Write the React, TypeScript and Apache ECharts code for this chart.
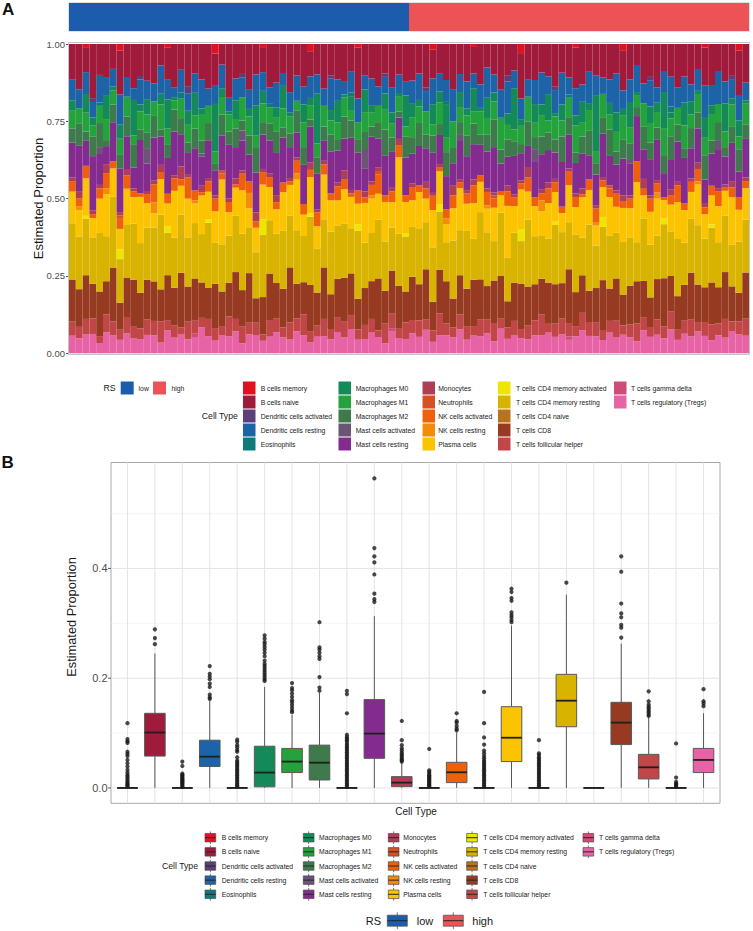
import React, { useEffect, useRef } from "react";
import * as echarts from "echarts";

const FONT = '"Liberation Sans", Arial, Helvetica, sans-serif';

const CELL_TYPES = [
  "B cells memory", "B cells naive", "Dendritic cells activated", "Dendritic cells resting", "Eosinophils",
  "Macrophages M0", "Macrophages M1", "Macrophages M2", "Mast cells activated", "Mast cells resting",
  "Monocytes", "Neutrophils", "NK cells activated", "NK cells resting", "Plasma cells",
  "T cells CD4 memory activated", "T cells CD4 memory resting", "T cells CD4 naive", "T cells CD8", "T cells follicular helper",
  "T cells gamma delta", "T cells regulatory (Tregs)",
];

const COLORS = [
  "#E0121F", "#A01A3C", "#5A3F78", "#1C63A7", "#107A79",
  "#138A58", "#24A23B", "#3E7A4B", "#6B5577", "#842B8F",
  "#AE3D56", "#D7501F", "#F0600A", "#F28C0A", "#FCC400",
  "#EEE600", "#D8B300", "#B9721D", "#963B22", "#C04648",
  "#D04C78", "#E862A6",
];

const RS_LEVELS = ["low", "high"];
const RS_COLORS = ["#1B5DAC", "#EC5256"];
const N_LOW = 50;
const N_HIGH = 50;
const RS_COUNTS = [N_LOW, N_HIGH];

// Panel A: per-sample estimated proportions (percent), one array per cell type
const B_CELLS_MEMORY = [0,0,1,0,0,0,0,2,0,0, 0,0,0,0,1,0,0,0,0,0, 0,3,0,0,0,0,0,0,1,0, 0,0,0,0,0,2,0,0,0,0, 0,0,1,0,0,0,0,0,0,0,
  0,0,0,2,0,0,0,0,0,1, 0,0,0,0,0,0,3,0,0,0, 0,0,0,0,1,0,0,0,0,0, 0,2,0,0,0,0,0,0,0,0, 0,0,0,1,0,0,0,0,2,0];
const B_CELLS_NAIVE = [10,12,8,14,9,11,7,13,10,15, 9,12,11,6,10,14,8,12,9,11, 13,10,7,16,11,9,12,10,8,13, 11,9,14,10,12,7,11,13,9,10, 12,8,15,11,10,13,9,12,10,11,
  11,9,13,10,8,12,14,10,11,9, 12,7,10,13,11,9,15,10,12,8, 11,13,9,10,12,14,8,11,10,12, 9,13,11,7,12,10,14,9,11,13, 10,12,8,11,13,9,12,10,14,11];
const DC_ACTIVATED = [0,0,0,1,0,0,0,0,0,0, 1,0,0,0,0,0,0,2,0,0, 0,0,0,0,0,1,0,0,0,0, 0,0,0,0,0,0,0,0,1,0, 0,0,0,0,0,0,1,0,0,0,
  0,0,1,0,0,0,0,0,0,0, 0,0,0,0,2,0,0,0,0,0, 0,1,0,0,0,0,0,0,0,0, 0,0,0,0,0,1,0,0,0,0, 0,0,0,0,0,0,0,1,0,0];
const DC_RESTING = [6,5,7,4,8,6,5,9,6,4, 7,6,5,8,6,3,7,5,6,9, 5,6,8,4,7,6,5,10,6,5, 7,4,6,8,5,6,7,5,9,6, 4,6,7,5,8,6,5,7,6,4,
  7,8,6,9,5,7,10,6,8,5, 7,9,6,8,11,6,7,5,8,9, 6,7,10,5,8,6,9,7,5,8, 12,6,7,9,6,8,5,7,10,6, 8,5,7,9,6,11,7,6,8,5];
const EOSINOPHILS = [0,0,0,0,1,0,0,0,0,0, 0,0,0,0,0,0,2,0,0,0, 0,0,0,0,0,0,0,0,0,1, 0,0,0,0,0,0,0,0,0,0, 0,1,0,0,0,0,0,0,0,0,
  0,0,0,0,0,1,0,0,0,0, 0,0,0,0,0,0,0,0,0,0, 0,0,0,1,0,0,0,0,0,0, 0,0,0,0,0,0,0,0,2,0, 0,0,0,0,0,0,0,0,0,0];
const MACRO_M0 = [3,0,6,2,0,8,1,4,0,12, 2,5,0,3,9,1,0,4,7,2, 0,15,3,1,6,0,2,10,4,0, 3,7,1,0,5,2,18,0,3,6, 1,4,0,8,2,0,5,3,1,9,
  4,2,0,7,3,11,0,5,2,8, 1,6,3,0,4,14,2,0,6,3, 9,1,5,0,3,7,2,20,0,4, 6,2,8,1,0,5,3,12,2,0, 7,4,1,6,3,0,9,2,5,1];
const MACRO_M1 = [5,4,6,3,5,7,4,5,6,3, 5,6,4,7,5,3,6,5,4,8, 5,4,6,5,3,7,5,4,6,5, 4,6,5,3,7,4,5,6,4,5, 6,3,5,7,4,5,6,4,5,3,
  6,5,7,4,6,5,8,5,6,4, 7,5,6,9,5,4,6,7,5,6, 4,7,5,6,8,5,6,4,7,5, 6,8,5,4,7,6,5,9,6,5, 7,4,6,5,8,6,5,7,4,6];
const MACRO_M2 = [4,6,3,5,7,2,5,4,6,8, 3,5,6,2,4,7,5,3,6,4, 5,2,7,4,6,3,5,8,4,5, 6,3,4,7,5,2,6,4,5,3, 7,5,4,6,3,5,8,4,2,6,
  5,7,4,6,3,8,5,4,6,7, 3,5,9,4,6,5,3,7,4,5, 6,4,8,5,3,6,7,4,5,9, 4,6,5,3,7,5,4,6,8,5, 3,6,5,7,4,6,3,5,7,4];
const MAST_ACTIVATED = [0,0,0,0,2,0,0,0,0,0, 0,5,0,0,0,0,0,0,0,1, 0,0,0,0,0,3,0,0,0,0, 0,0,0,0,0,0,0,0,0,0, 0,0,0,7,0,0,0,0,0,0,
  0,0,0,0,0,0,0,2,0,0, 0,0,0,0,0,0,0,0,4,0, 0,0,0,0,0,0,0,0,0,0, 0,0,1,0,0,0,0,0,0,0, 0,0,0,0,0,3,0,0,0,0];
const MAST_RESTING = [10,12,8,14,9,6,11,13,10,7, 15,9,12,8,11,14,10,6,13,9, 11,8,12,16,10,9,7,13,11,10, 12,14,9,8,11,10,13,6,12,9, 10,15,11,8,13,9,12,10,7,11,
  9,12,10,14,8,11,7,13,10,12, 9,11,15,8,10,13,9,6,12,10, 11,8,14,10,9,12,7,11,13,10, 8,12,10,15,9,11,13,8,10,12, 14,9,11,7,10,13,9,12,8,11];
const MONOCYTES = [1,2,0,1,1,3,0,1,2,1, 0,1,1,2,0,1,4,1,0,2, 1,1,0,1,2,1,0,3,1,1, 2,0,1,1,0,2,1,1,0,1, 3,1,0,2,1,1,0,1,2,0,
  1,0,2,1,1,0,3,1,1,2, 0,1,1,0,2,1,1,3,0,1, 2,1,0,1,1,2,0,1,1,0, 1,2,1,0,3,1,1,0,2,1, 0,1,2,1,0,1,1,2,0,1];
const NEUTROPHILS = [0,0,0,0,0,0,0,1,0,0, 0,0,0,0,0,0,0,0,0,0, 0,0,1,0,0,0,0,0,0,0, 0,0,0,0,0,0,0,0,0,0, 0,0,0,0,0,1,0,0,0,0,
  0,0,0,0,0,0,0,0,0,0, 0,0,1,0,0,0,0,0,0,0, 0,0,0,0,0,0,0,0,0,1, 0,0,0,0,0,0,0,0,0,0, 0,0,0,0,0,0,0,0,0,0];
const NK_ACTIVATED = [3,2,4,1,3,5,2,3,4,2, 1,3,5,2,3,4,2,6,3,1, 3,4,2,3,1,5,3,2,4,3, 2,3,1,4,3,2,5,3,2,4, 3,1,4,2,3,6,2,3,4,2,
  4,2,3,5,1,3,4,2,3,6, 2,4,3,1,5,3,2,4,3,2, 5,3,2,4,3,1,3,5,2,3, 4,2,3,7,2,4,3,1,3,5, 2,3,4,2,3,5,1,3,4,2];
const NK_RESTING = [0,1,0,0,0,2,0,0,0,0, 0,0,3,0,0,0,0,0,1,0, 0,0,0,0,0,0,4,0,0,0, 0,0,0,2,0,0,0,0,0,0, 0,0,0,0,1,0,0,0,0,0,
  0,0,0,0,0,2,0,0,0,0, 0,1,0,0,0,0,0,0,0,3, 0,0,0,0,0,0,0,1,0,0, 0,0,0,0,0,0,2,0,0,0, 0,0,1,0,0,0,0,0,0,0];
const PLASMA = [9,7,12,5,10,14,8,6,11,9, 13,8,4,10,7,15,9,11,6,12, 8,10,22,7,9,13,5,8,11,10, 7,12,9,16,6,10,8,13,9,7, 11,9,6,14,10,8,12,7,25,9,
  8,11,7,13,9,6,10,14,8,12, 9,7,11,5,18,9,13,8,10,7, 12,9,6,11,8,14,10,7,9,13, 8,11,9,20,7,10,12,6,9,11, 10,8,13,7,9,12,8,15,10,9];
const CD4_MEM_ACTIVATED = [0,0,1,0,0,0,0,3,0,0, 0,0,0,0,2,0,0,0,0,0, 1,0,0,0,0,0,0,0,5,0, 0,0,0,0,0,1,0,0,0,0, 0,0,2,0,0,0,0,0,0,1,
  0,0,0,0,2,0,0,0,0,0, 0,0,0,0,0,0,4,0,0,0, 0,1,0,0,0,0,0,0,3,0, 0,0,0,0,0,0,0,2,0,0, 0,0,0,0,1,0,0,0,0,0];
const CD4_MEM_RESTING = [16,14,18,12,17,15,20,13,16,19, 14,17,15,21,13,16,18,14,17,15, 19,13,16,14,18,17,12,15,20,16, 14,18,15,17,13,19,16,14,18,15, 17,13,20,16,14,18,15,12,17,16,
  15,17,14,19,16,13,18,15,17,14, 20,16,13,18,15,17,14,19,16,12, 15,18,16,14,17,13,19,15,16,18, 14,17,15,13,19,16,14,18,15,17, 13,16,19,14,17,15,18,13,16,15];
const CD4_NAIVE = [0,0,0,0,0,0,0,0,0,0, 0,0,0,0,0,0,0,0,0,0, 0,0,0,0,0,0,0,0,0,0, 0,0,0,0,0,0,0,0,0,0, 0,0,0,0,0,0,0,0,0,0,
  0,0,0,0,0,0,0,0,0,0, 0,0,0,0,0,0,0,0,0,0, 0,0,0,0,0,0,0,0,0,0, 0,0,0,0,0,0,0,0,0,0, 0,0,0,0,0,0,0,0,0,0];
const CD8 = [12,10,14,9,13,11,15,8,12,16, 10,13,11,9,14,12,17,10,13,11, 9,14,12,10,15,11,13,8,12,14, 10,12,16,11,9,13,12,15,10,11, 14,12,9,13,11,16,10,12,14,9,
  13,11,15,10,12,14,9,13,11,16, 12,10,14,12,9,13,15,11,12,10, 14,12,11,16,10,13,9,12,15,11, 13,10,12,14,11,9,13,16,12,10, 11,14,12,10,13,12,15,11,9,13];
const TFH = [4,3,5,4,2,6,4,3,5,4, 3,5,4,6,3,4,2,5,4,3, 5,4,3,6,4,5,3,4,2,5, 4,3,5,4,6,3,4,5,3,4, 5,4,3,5,4,2,6,4,3,5,
  4,5,3,4,6,4,3,5,4,3, 5,4,6,3,4,5,3,4,5,6, 3,4,5,4,3,6,4,5,3,4, 5,3,4,6,4,3,5,4,6,3, 4,5,3,4,5,4,6,3,4,5];
const GAMMA_DELTA = [0,0,0,0,0,0,0,0,0,0, 0,0,0,0,0,0,0,0,1,0, 0,0,0,0,0,0,0,0,0,0, 0,0,0,0,0,0,0,0,0,0, 0,0,0,0,0,0,0,1,0,0,
  0,0,0,0,0,0,0,0,0,0, 0,0,0,0,0,0,0,0,0,0, 0,0,0,1,0,0,0,0,0,0, 0,0,0,0,0,0,0,0,0,0, 0,0,0,0,0,0,0,0,0,0];
const TREGS = [5,4,6,5,3,7,5,4,6,5, 4,6,5,3,7,5,6,4,5,8, 5,4,6,5,7,3,5,6,4,5, 6,5,4,7,5,3,6,5,4,6, 5,7,4,5,6,5,3,6,5,4,
  6,5,7,4,5,6,5,8,4,6, 5,6,4,7,5,6,5,4,6,5, 7,5,6,4,5,8,5,6,4,7, 5,6,5,4,7,5,6,5,8,4, 6,5,7,5,4,6,5,7,6,5];

const SAMPLE_VALUES = [
  B_CELLS_MEMORY, B_CELLS_NAIVE, DC_ACTIVATED, DC_RESTING, EOSINOPHILS,
  MACRO_M0, MACRO_M1, MACRO_M2, MAST_ACTIVATED, MAST_RESTING,
  MONOCYTES, NEUTROPHILS, NK_ACTIVATED, NK_RESTING, PLASMA,
  CD4_MEM_ACTIVATED, CD4_MEM_RESTING, CD4_NAIVE, CD8, TFH,
  GAMMA_DELTA, TREGS,
];

const Y_TICKS_A = [0, 0.25, 0.5, 0.75, 1];
const Y_MAJOR_B = [0, 0.2, 0.4];
const Y_MINOR_B = [0.1, 0.3, 0.5];

// Panel B: [lower whisker, Q1, median, Q3, upper whisker]
const BOX_STATS = [
  [0, 0, 0, 0, 0],
  [0, 0.058, 0.101, 0.136, 0.245],
  [0, 0, 0, 0, 0],
  [0, 0.039, 0.057, 0.087, 0.158],
  [0, 0, 0, 0, 0],
  [0, 0.002, 0.028, 0.076, 0.184],
  [0, 0.028, 0.048, 0.072, 0.133],
  [0, 0.0145, 0.046, 0.078, 0.173],
  [0, 0, 0, 0, 0],
  [0, 0.054, 0.099, 0.161, 0.313],
  [0, 0.0024, 0.0097, 0.0206, 0.046],
  [0, 0, 0, 0, 0],
  [0, 0.0097, 0.0285, 0.0467, 0.101],
  [0, 0, 0, 0, 0],
  [0, 0.048, 0.0915, 0.148, 0.296],
  [0, 0, 0, 0, 0],
  [0, 0.1115, 0.159, 0.207, 0.352],
  [0, 0, 0, 0, 0],
  [0, 0.079, 0.119, 0.156, 0.263],
  [0, 0.0164, 0.0376, 0.0612, 0.128],
  [0, 0, 0, 0, 0],
  [0, 0.028, 0.051, 0.072, 0.136],
];

const OUTLIERS = [
  [0.118, 0.089, 0.085, 0.082, 0.066, 0.062, 0.058, 0.051, 0.045, 0.039, 0.033, 0.028, 0.024, 0.021, 0.018, 0.015, 0.012, 0.009, 0.007, 0.005, 0.003],
  [0.289, 0.273, 0.262],
  [0.048, 0.04, 0.026, 0.024, 0.022, 0.02, 0.018, 0.016, 0.014, 0.012, 0.01, 0.008, 0.006, 0.004, 0.002],
  [0.222, 0.208, 0.203, 0.198, 0.19, 0.184, 0.17, 0.165, 0.162],
  [0.088, 0.084, 0.078, 0.074, 0.069, 0.066, 0.056, 0.05, 0.047, 0.044, 0.041, 0.038, 0.035, 0.032, 0.029, 0.026, 0.023, 0.02, 0.017, 0.014, 0.011, 0.008, 0.005, 0.003],
  [0.278, 0.272, 0.266, 0.262, 0.257, 0.252, 0.246, 0.24, 0.232, 0.226, 0.222, 0.218, 0.214, 0.21, 0.206, 0.202, 0.198, 0.195],
  [0.191, 0.182, 0.178, 0.172, 0.166, 0.16, 0.156, 0.151, 0.146, 0.141, 0.138],
  [0.302, 0.256, 0.252, 0.246, 0.24, 0.235, 0.202, 0.183, 0.177],
  [0.177, 0.171, 0.136, 0.097, 0.093, 0.09, 0.087, 0.084, 0.08, 0.077, 0.074, 0.071, 0.068, 0.065, 0.062, 0.059, 0.056, 0.053, 0.05, 0.047, 0.044, 0.041, 0.038, 0.035, 0.032, 0.029, 0.026, 0.023, 0.02, 0.017, 0.014, 0.011, 0.008, 0.005, 0.002],
  [0.564, 0.437, 0.422, 0.411, 0.389, 0.354, 0.344, 0.339],
  [0.122, 0.087, 0.078, 0.072, 0.068, 0.064, 0.061, 0.058, 0.055, 0.052, 0.05, 0.048],
  [0.071, 0.032, 0.029, 0.026, 0.023, 0.021, 0.019, 0.017, 0.015, 0.013, 0.011, 0.009, 0.007, 0.005, 0.003],
  [0.136, 0.122, 0.119, 0.113, 0.108, 0.105],
  [0.175, 0.118, 0.092, 0.079, 0.068, 0.063, 0.058, 0.054, 0.05, 0.047, 0.044, 0.041, 0.038, 0.035, 0.032, 0.029, 0.026, 0.023, 0.02, 0.017, 0.014, 0.011, 0.008, 0.005, 0.002],
  [0.363, 0.357, 0.346, 0.341, 0.32, 0.315, 0.311, 0.306, 0.302],
  [0.087, 0.063, 0.06, 0.056, 0.053, 0.05, 0.047, 0.044, 0.041, 0.038, 0.035, 0.032, 0.029, 0.026, 0.023, 0.02, 0.017, 0.014, 0.011, 0.008, 0.005, 0.002],
  [0.374],
  [],
  [0.422, 0.394, 0.336, 0.318, 0.311, 0.297, 0.292, 0.274],
  [0.176, 0.158, 0.152, 0.148, 0.145, 0.141, 0.138, 0.134, 0.131],
  [0.081, 0.019, 0.011, 0.008, 0.006, 0.004, 0.002],
  [0.18, 0.158, 0.154, 0.149],
];

function txt(text: string, x: number, y: number, size: number, align = "left", extra: any = {}) {
  return {
    type: "text", x, y, silent: true, z: 60, ...extra,
    style: {
      text, fontSize: size, fontFamily: FONT, fill: extra.fill || "#1a1a1a",
      fontWeight: extra.fontWeight || "normal",
      align, textAlign: align, verticalAlign: "middle", textVerticalAlign: "middle",
    },
  };
}

function buildGraphics(): any[] {
  const els: any[] = [];
  // panel tags
  els.push(txt("A", 2, 9.5, 17, "left", { fontWeight: "bold", fill: "#111" }));
  els.push(txt("B", 1.5, 462.5, 17, "left", { fontWeight: "bold", fill: "#111" }));
  // axis titles
  els.push(txt("Estimated Proportion", 38, 198.5, 13, "center", { rotation: Math.PI / 2 }));
  els.push(txt("Estimated Proportion", 71.5, 617, 12.8, "center", { rotation: Math.PI / 2 }));
  els.push(txt("Cell Type", 416, 811.7, 10, "center"));
  // panel A frame and RS strip outline
  els.push({ type: "rect", z: 55, silent: true, shape: { x: 68.5, y: 42.5, width: 681, height: 312 }, style: { fill: "none", stroke: "#c4c4c4", lineWidth: 1 } });
  els.push({ type: "rect", z: 55, silent: true, shape: { x: 68.5, y: 2.5, width: 681, height: 29 }, style: { fill: "none", stroke: "#d9d9d9", lineWidth: 0.8 } });

  // Legend A: RS
  els.push(txt("RS", 103.6, 388, 8.7));
  const rsAX = [120.7, 153];
  const rsATxt = [138.6, 171.4];
  RS_LEVELS.forEach((lv, i) => {
    els.push({ type: "rect", z: 60, silent: true, shape: { x: rsAX[i], y: 381.5, width: 13, height: 13 }, style: { fill: RS_COLORS[i] } });
    els.push(txt(lv, rsATxt[i], 388, 6.8));
  });
  // Legend A: Cell Type
  els.push(txt("Cell Type", 201.8, 416, 8.7));
  const colXA = [243, 338.5, 422.5, 498, 614];
  const txtXA = [260.7, 355.7, 438.2, 516, 631];
  CELL_TYPES.forEach((name, i) => {
    const c = Math.floor(i / 5), r = i % 5;
    const cy = 388 + r * 14;
    els.push({ type: "rect", z: 60, silent: true, shape: { x: colXA[c], y: cy - 6.5, width: 12.5, height: 13 }, style: { fill: COLORS[i] } });
    els.push(txt(name, txtXA[c], cy, 6.8));
  });

  // Legend B: Cell Type (box glyphs)
  els.push(txt("Cell Type", 198, 866.3, 8.7, "right"));
  const colXB = [205, 303.3, 388.3, 466.7, 583];
  const txtXB = [221.7, 319, 403.3, 483.3, 599];
  const glyph = (x: number, cy: number, w: number, h: number, wh: number, fill: string) => {
    const mx = x + w / 2;
    return [
      { type: "line", z: 60, silent: true, shape: { x1: mx, y1: cy - h / 2 - wh, x2: mx, y2: cy - h / 2 }, style: { stroke: "#4d4d4d", lineWidth: 0.8 } },
      { type: "line", z: 60, silent: true, shape: { x1: mx, y1: cy + h / 2, x2: mx, y2: cy + h / 2 + wh }, style: { stroke: "#4d4d4d", lineWidth: 0.8 } },
      { type: "rect", z: 60, silent: true, shape: { x, y: cy - h / 2, width: w, height: h }, style: { fill, stroke: "#4d4d4d", lineWidth: 0.7 } },
      { type: "line", z: 61, silent: true, shape: { x1: x, y1: cy, x2: x + w, y2: cy }, style: { stroke: "#262626", lineWidth: 1 } },
    ];
  };
  CELL_TYPES.forEach((name, i) => {
    const c = Math.floor(i / 5), r = i % 5;
    const cy = 837.7 + r * 14.15;
    els.push(...glyph(colXB[c], cy, 10.7, 8.5, 2, COLORS[i]));
    els.push(txt(name, txtXB[c], cy, 6.8));
  });
  // Legend B: RS
  els.push(txt("RS", 365.7, 920.7, 11));
  const rsBX = [387.3, 443.3];
  const rsBTxt = [416.7, 472.3];
  RS_LEVELS.forEach((lv, i) => {
    els.push(...glyph(rsBX[i], 920.7, 20, 11, 2.8, RS_COLORS[i]));
    els.push(txt(lv, rsBTxt[i], 920.7, 11));
  });
  return els;
}

function buildOption(): any {
  const nSamples = N_LOW + N_HIGH;
  const SAMPLES = Array.from({ length: nSamples }, (_, i) => "S" + (i + 1));
  const totals = SAMPLES.map((_, j) => SAMPLE_VALUES.reduce((s, arr) => s + (arr[j] ?? 0), 0));
  const props = SAMPLE_VALUES.map((arr) => SAMPLES.map((_, j) => (arr[j] ?? 0) / (totals[j] || 1)));

  const barSeries: any[] = [];
  for (let k = CELL_TYPES.length - 1; k >= 0; k--) {
    barSeries.push({
      type: "bar", name: CELL_TYPES[k], stack: "cibersort", xAxisIndex: 1, yAxisIndex: 1,
      data: props[k], barWidth: "100%", barCategoryGap: "0%", silent: true,
      itemStyle: { color: COLORS[k], borderWidth: 0 },
    });
  }

  // RS strip: horizontal stacked bar, one segment per group (sample counts)
  const rsSeries = RS_LEVELS.map((lv, i) => ({
    type: "bar", name: lv, stack: "rs", xAxisIndex: 0, yAxisIndex: 0, barWidth: "100%", silent: true,
    data: [RS_COUNTS[i]],
    itemStyle: { color: RS_COLORS[i] },
  }));

  const hGridSeries = {
    type: "custom", xAxisIndex: 2, yAxisIndex: 2, z: 1, silent: true,
    data: [...Y_MAJOR_B.map((v) => [1, v]), ...Y_MINOR_B.map((v) => [0, v])],
    renderItem: (params: any, api: any) => {
      const cs = params.coordSys;
      const major = api.value(0) === 1;
      const v = api.value(1);
      const y = api.coord([0, v])[1];
      const children: any[] = [
        { type: "line", shape: { x1: cs.x, y1: y, x2: cs.x + cs.width, y2: y }, style: { stroke: major ? "#e3e3e3" : "#f1f1f1", lineWidth: major ? 1 : 0.7 } },
      ];
      if (major) {
        children.push({ type: "line", shape: { x1: cs.x - 3, y1: y, x2: cs.x, y2: y }, style: { stroke: "#333", lineWidth: 0.8 } });
        children.push({ type: "text", x: cs.x - 3.5, y, style: { text: v.toFixed(1), fontSize: 11, fontFamily: FONT, fill: "#4d4d4d", align: "right", textAlign: "right", verticalAlign: "middle", textVerticalAlign: "middle" } });
      }
      return { type: "group", children };
    },
  };

  const vGridSeries = {
    type: "custom", xAxisIndex: 2, yAxisIndex: 2, z: 1, silent: true,
    data: CELL_TYPES.map((_, i) => [i, 0]),
    renderItem: (params: any, api: any) => {
      const cs = params.coordSys;
      const x = api.coord([api.value(0), 0])[0];
      return { type: "line", shape: { x1: x, y1: cs.y, x2: x, y2: cs.y + cs.height }, style: { stroke: "#e3e3e3", lineWidth: 1 } };
    },
  };

  const boxSeries = {
    type: "custom", xAxisIndex: 2, yAxisIndex: 2, z: 3, silent: true,
    data: BOX_STATS.map((s, i) => [i, ...s]),
    renderItem: (params: any, api: any) => {
      const i = api.value(0);
      const pMin = api.coord([i, api.value(1)]);
      const pQ1 = api.coord([i, api.value(2)]);
      const pMed = api.coord([i, api.value(3)]);
      const pQ3 = api.coord([i, api.value(4)]);
      const pMax = api.coord([i, api.value(5)]);
      const w = api.size([0.75, 0])[0];
      const x = pMed[0];
      const fill = COLORS[params.dataIndex];
      return {
        type: "group",
        children: [
          { type: "line", shape: { x1: x, y1: pMax[1], x2: x, y2: pQ3[1] }, style: { stroke: "#595959", lineWidth: 1 } },
          { type: "line", shape: { x1: x, y1: pQ1[1], x2: x, y2: pMin[1] }, style: { stroke: "#595959", lineWidth: 1 } },
          { type: "rect", shape: { x: x - w / 2, y: pQ3[1], width: w, height: Math.max(0, pQ1[1] - pQ3[1]) }, style: { fill, stroke: "#595959", lineWidth: 1 } },
          { type: "line", shape: { x1: x - w / 2, y1: pMed[1], x2: x + w / 2, y2: pMed[1] }, style: { stroke: "#1f1f1f", lineWidth: 1.8 } },
        ],
      };
    },
  };

  const outlierSeries = {
    type: "scatter", xAxisIndex: 2, yAxisIndex: 2, z: 4, silent: true,
    symbol: "circle", symbolSize: 4.2,
    itemStyle: { color: "#1a1a1a" },
    data: OUTLIERS.flatMap((arr, i) => arr.map((v) => [i, v])),
  };

  return {
    animation: false,
    backgroundColor: "#ffffff",
    textStyle: { fontFamily: FONT },
    grid: [
      { left: 69, top: 3, width: 680, height: 28, outerBoundsMode: "none" },
      { left: 69, top: 44, width: 680, height: 309.3, outerBoundsMode: "none" },
      { left: 111, top: 462.5, width: 609, height: 340.8, show: true, borderColor: "#a8a8a8", borderWidth: 1, backgroundColor: "transparent", outerBoundsMode: "none" },
    ],
    xAxis: [
      { type: "value", gridIndex: 0, min: 0, max: nSamples, show: false, splitLine: { show: false } },
      { type: "category", gridIndex: 1, data: SAMPLES, show: false },
      { type: "value", gridIndex: 2, min: -0.6, max: 21.6, show: false, splitLine: { show: false } },
    ],
    yAxis: [
      { type: "category", gridIndex: 0, data: ["RS"], show: false },
      {
        type: "value", gridIndex: 1, min: Y_TICKS_A[0], max: Y_TICKS_A[Y_TICKS_A.length - 1], interval: 0.25,
        axisLine: { show: false },
        axisTick: { show: true, length: 3, lineStyle: { color: "#333", width: 0.8 } },
        axisLabel: { formatter: (v: number) => v.toFixed(2), fontSize: 9.5, color: "#4d4d4d", margin: 4, fontFamily: FONT },
        splitLine: { show: false },
      },
      { type: "value", gridIndex: 2, min: -0.028, max: 0.593, show: false, splitLine: { show: false } },
    ],
    graphic: { elements: buildGraphics() },
    series: [...rsSeries, ...barSeries, hGridSeries, vGridSeries, boxSeries, outlierSeries],
  };
}

export default function App() {
  const ref = useRef<HTMLDivElement>(null);
  useEffect(() => {
    if (!ref.current) return;
    const chart = echarts.init(ref.current, null, { renderer: "svg", width: 753, height: 931 });
    chart.setOption(buildOption());
    return () => chart.dispose();
  }, []);
  return (
    <div
      ref={ref}
      style={{ position: "absolute", left: 0, top: 0, width: 753, height: 931, background: "#fff" }}
    />
  );
}
